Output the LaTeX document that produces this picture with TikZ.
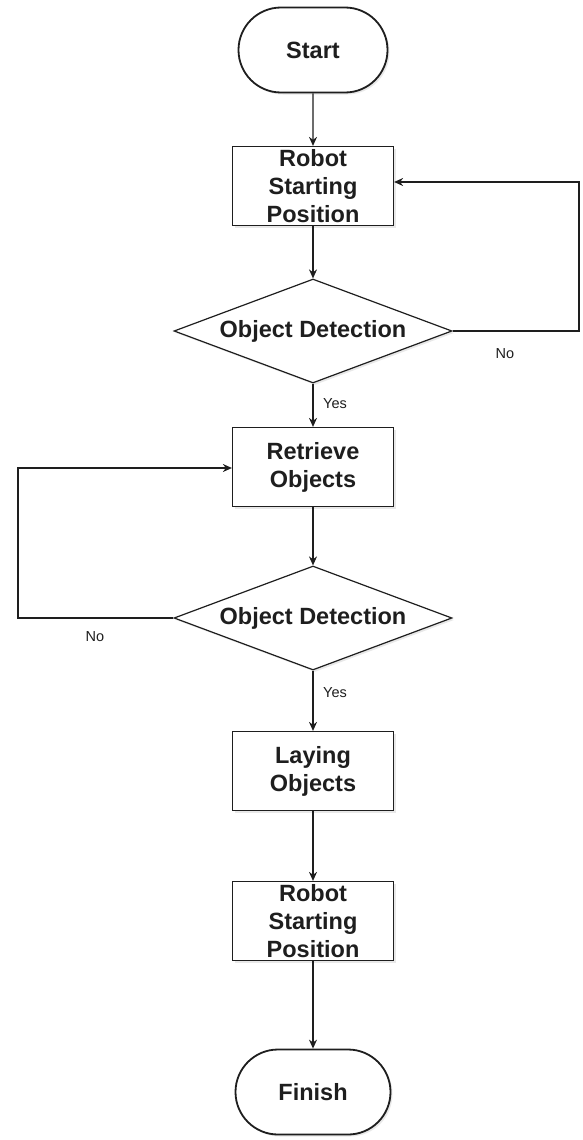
\documentclass[tikz,border=0pt]{standalone}
\usepackage{fontspec}
\setmainfont{Liberation Sans}
\usetikzlibrary{shapes.geometric,shapes.misc,arrows.meta,shadows}
\definecolor{ink}{HTML}{1E1E1E}
\begin{document}
\begin{tikzpicture}[x=1pt,y=-1pt,
  bigtext/.style={font=\fontsize{23.5}{28}\selectfont\bfseries, text=ink},
  shad/.style={drop shadow={shadow xshift=2pt,shadow yshift=-2pt,opacity=0.18,fill=gray}},
  term/.style={rounded rectangle, draw=ink, fill=white, line width=1.8pt, minimum height=85pt, inner sep=0pt, bigtext, shad},
  procbox/.style={rectangle, draw=ink, fill=white, line width=1.2pt, minimum width=161pt, minimum height=79pt, align=center, inner sep=0pt, bigtext, shad},
  decision/.style={diamond, aspect=2.67, draw=ink, fill=white, line width=1.2pt, minimum width=278pt, minimum height=104pt, inner sep=0pt, bigtext, shad},
  flow/.style={draw=ink, line width=1.2pt, -{Stealth[length=9pt,width=8pt]}},
  lbl/.style={font=\fontsize{14.5}{17}\selectfont, text=ink}
]
\useasboundingbox (0,0) rectangle (582,1140);
\fill[white] (0,0) rectangle (582,1140);

\node[term, minimum width=149pt] (start) at (313,50) {Start};
\node[procbox] (b1) at (313,186) {Robot\\Starting\\Position};
\node[decision] (d1) at (313,331) {Object Detection};
\node[procbox] (b2) at (313,467) {Retrieve\\Objects};
\node[decision] (d2) at (313,618) {Object Detection};
\node[procbox] (b3) at (313,771) {Laying\\Objects};
\node[procbox] (b4) at (313,921) {Robot\\Starting\\Position};
\node[term, minimum width=155pt] (fin) at (313,1092) {Finish};

\coordinate (r1) at (579,331);
\coordinate (r2) at (579,182);
\coordinate (l1) at (18,618);
\coordinate (l2) at (18,468);

\draw[flow] (start) -- (b1);
\draw[flow] (b1) -- (d1);
\draw[flow] (d1) -- (b2);
\draw[flow] (b2) -- (d2);
\draw[flow] (d2) -- (b3);
\draw[flow] (b3) -- (b4);
\draw[flow] (b4) -- (fin);
\draw[flow] (d1.east) -- (r1) -- (r2) -- (b1.east |- r2);
\draw[flow] (d2.west) -- (l1) -- (l2) -- (b2.west |- l2);

\node[lbl] (no1) at (505,354) {No};
\node[lbl] (yes1) at (335,404) {Yes};
\node[lbl] (no2) at (95,637) {No};
\node[lbl] (yes2) at (335,693) {Yes};
\end{tikzpicture}
\end{document}
